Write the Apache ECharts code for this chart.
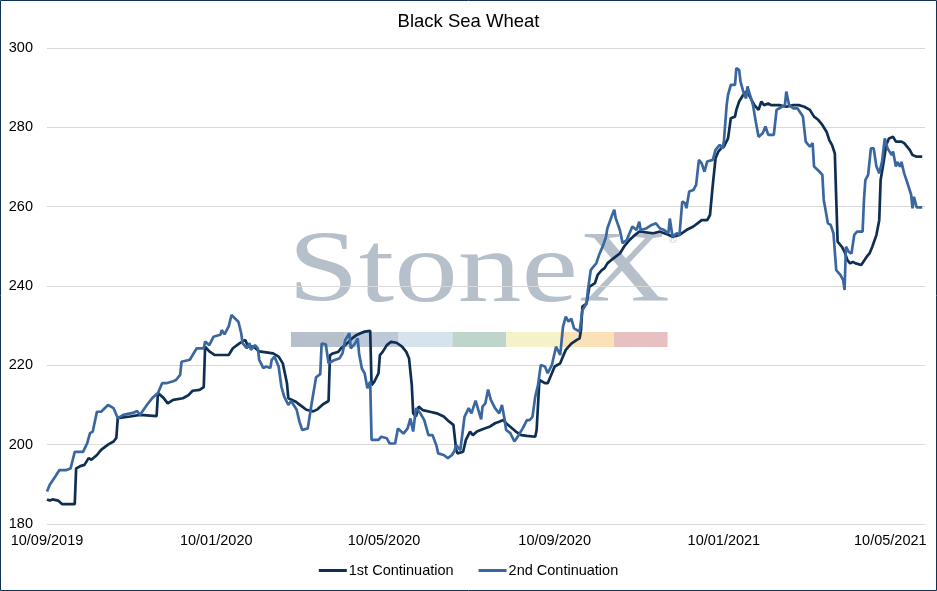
<!DOCTYPE html>
<html>
<head>
<meta charset="utf-8">
<title>Black Sea Wheat</title>
<script src="https://cdn.jsdelivr.net/npm/echarts@6.0.0/dist/echarts.min.js"></script>
<style>
    html, body { margin: 0; padding: 0; background: #fff; }
    #chart { width: 937px; height: 591px; }
</style>
</head>
<body>
<div id="chart"></div>
<script>
// dates are kept as day counts from the first date
var startDate = '2019-09-10';
var tickLabels = ['10/09/2019', '10/01/2020', '10/05/2020', '10/09/2020', '10/01/2021', '10/05/2021'];
var yTicks = [180, 200, 220, 240, 260, 280, 300];
var seriesNames = ['1st Continuation', '2nd Continuation'];

var days1 = [0,2,4,8,11,20,21,24,27,30,
    32,36,39,44,48,50,51,60,67,79,
    80,84,87,91,98,102,105,110,113,114,
    117,121,131,134,139,143,145,149,153,163,
    167,170,173,174,179,184,187,192,195,199,
    203,204,206,210,212,215,220,223,226,229,
    233,234,236,239,240,242,245,248,252,256,
    259,261,263,264,266,268,271,276,281,286,
    290,293,295,296,300,302,305,307,310,314,
    319,323,326,329,331,334,338,342,346,352,
    353,355,359,361,364,366,370,372,374,378,
    382,384,385,386,389,391,395,397,400,402,
    404,407,410,413,416,420,424,427,437,442,
    448,451,456,461,466,469,472,476,478,480,
    482,484,486,488,491,493,496,497,499,502,
    504,506,510,513,515,517,520,522,528,533,
    538,542,546,550,553,556,559,562,564,566,
    568,569,570,573,575,577,579,581,583,587,
    588,591,593,595,598,600,601,603,605,607,
    610,612,616,618,622,624,627,631];
var vals1 = [186.2,185.9,186.2,185.9,185,185,194,194.6,194.9,196.6,
    196.2,197.4,198.7,200,200.8,201.7,206.7,207.1,207.5,207.2,
    213,211.8,210.4,211.3,211.7,212.5,213.6,213.8,214.5,224.7,
    223.5,222.6,222.6,224.3,225.6,226.4,224.7,224.7,223.5,223,
    222.2,220.5,215.5,211.7,210.9,209.6,208.8,208.4,208.9,210.2,
    211,222.5,223,223.4,224.3,225.1,226.8,227.6,228.1,228.5,
    228.7,215,215.9,218,222.6,223.4,225.1,225.9,225.7,224.7,
    223.4,221.8,215,207.9,207.1,209.6,208.7,208.3,207.9,207.1,
    205.8,205,198.7,197.8,198.2,201.2,203.3,202.4,203.3,203.9,
    204.5,205.4,205.8,206.2,205.4,204.5,203.3,202.4,202.2,202,
    203.7,216.3,215.5,215.5,218,219.7,220.5,222.2,223.9,225.5,
    226.4,226.8,228.9,234.8,235.6,239.8,240.7,242.8,244,244.5,
    245.7,246.6,247.4,248.2,249.9,251.6,252.9,253.7,253.3,253.7,
    252.9,252.4,252.9,254.1,255,255.8,256.6,256.6,257.9,265.5,
    272.2,273.9,274.7,275.1,277.2,282.3,282.7,284.4,286.5,288.2,
    289,288.2,285.6,284.4,286.5,285.6,286,285.6,285.6,285.2,
    285.6,285.6,285.2,284.4,282.7,281.9,280.6,278.9,276.8,275.5,
    273.4,262,251.2,249.9,248.6,246.6,245.7,246.1,245.7,245.3,
    244.9,247.4,248.2,249.9,252.9,256.6,266.7,270.9,275.5,277.2,
    277.6,276.4,276.4,276,274.3,273,272.6,272.6];

var days2 = [0,2,6,9,14,17,20,26,29,31,
    33,36,39,44,48,51,55,62,65,67,
    72,76,80,83,86,91,93,96,97,103,
    105,108,113,114,117,120,125,126,128,129,
    131,133,134,138,140,141,144,146,147,150,
    152,153,156,158,161,162,164,167,169,171,
    174,176,180,182,184,188,191,194,197,198,
    201,203,205,207,211,213,215,218,219,222,
    224,225,227,229,231,233,234,239,241,245,
    247,251,253,257,260,262,264,266,269,272,
    275,278,281,282,286,289,292,294,295,298,
    301,304,306,309,311,313,314,316,318,320,
    323,326,328,330,331,334,337,340,343,346,
    348,350,352,354,356,359,361,364,367,370,
    372,374,376,378,380,384,386,389,390,392,
    394,396,398,401,403,404,407,409,410,413,
    415,418,420,422,425,427,428,432,436,439,
    442,445,448,449,451,454,456,458,460,461,
    463,466,468,470,472,474,476,480,482,485,
    487,488,490,491,493,496,497,499,500,502,
    504,505,506,509,511,513,516,518,520,524,
    526,528,532,533,535,538,541,545,547,550,
    552,553,557,559,560,563,565,567,569,572,
    574,575,576,578,580,582,584,588,589,590,
    592,594,596,598,600,602,604,606,607,609,
    610,612,613,615,616,618,620,623,624,625,
    627,631];
var vals2 = [188.2,189.9,192,193.6,193.6,194,198.2,198.2,200.4,202.9,
    203.3,208.3,208.3,210,209.2,206.7,207.5,208,208.5,207.5,
    210,211.8,213,215.5,215.5,216,216.3,217.6,220.9,221.4,
    222.6,224.3,224.3,226,225.1,227.2,227.7,228.9,227.8,228.5,
    229.8,232.7,232.7,231,228.1,225.6,224.3,225.6,223.9,225.1,
    224.3,221.4,219.3,219.7,219.3,221.4,222.2,219.7,214.6,212.1,
    210,211,208.8,205.8,203.7,204.1,210.8,217,217.8,225.5,
    225.3,220.5,220.9,221.3,221.8,223,226.4,228.1,224.3,225.5,
    226.8,223,219.2,218,214.2,215.9,201.2,201.2,202,201.6,
    200.3,200.3,204.1,202.8,204.1,206.6,203.3,209.2,208,206.2,
    202.4,202.4,199.5,197.8,197.4,196.6,197.4,198.6,199.9,198.6,
    207,209.2,207.9,211.1,208.7,206.4,209.6,210.4,213.9,211.3,
    209.2,207.9,210,206.2,203.7,202.9,200.8,202.4,204.1,206.2,
    206.2,207,212.1,215,220.1,219.7,218,220.1,224.7,222.6,
    229.7,232.3,231,231.8,229.3,228.5,233.9,235.6,239,244,
    244.9,245.7,247.8,250.3,252.4,254.5,257.5,259.2,257.1,254.1,
    250.8,251.6,253.3,255,254.1,256.2,254.1,254.5,255.4,255.8,
    254.5,254.1,253.3,257,252.4,253.3,252.9,261.3,260.9,259.6,
    263.8,264.2,265.5,271.8,270.9,268.8,271.4,271.8,274.3,275.6,
    274.7,276.4,285.6,288.2,290.7,290.7,294.9,294.5,291.5,289,
    287.3,290.3,289.8,285.6,281.4,277.6,278.5,280.2,278.1,278.1,
    284.4,284.8,285.6,289,285.6,284.8,284.8,282.7,276.4,275.1,
    276,270.1,268.8,268,261.7,255.8,255.4,253.3,244,242.8,
    241.5,239,249.9,248.6,248.2,252.9,253.7,253.7,261.7,266.7,
    268,274.7,274.7,270.1,268.4,271.3,277.2,274.7,274.3,273,
    273.9,270.1,271.3,270.1,271.3,268.4,266.3,263,259.6,262.5,
    259.8,259.8];

var DAY = 86400000;
var startParts = startDate.split('-');
var t0 = new Date(+startParts[0], +startParts[1] - 1, +startParts[2]).getTime();

// dd/mm/yyyy -> days from startDate
var labelToDay = function (s) {
    var p = s.split('/');
    return Math.round((new Date(+p[2], +p[1] - 1, +p[0]).getTime() - t0) / DAY);
};
var pad = function (n) {
    return n < 10 ? '0' + n : '' + n;
};
var dayToLabel = function (v) {
    var d = new Date(t0 + Math.round(v) * DAY + DAY / 2);
    return pad(d.getDate()) + '/' + pad(d.getMonth() + 1) + '/' + d.getFullYear();
};

var lineChart = function () {
    var box = document.getElementById('chart');
    var myChart = echarts.init(box, null, { renderer: 'canvas' });

    var data1 = days1.map(function (d, i) { return [d, vals1[i]]; });
    var data2 = days2.map(function (d, i) { return [d, vals2[i]]; });
    var tickDays = tickLabels.map(labelToDay);

    // watermark bar colours
    var barColors = ['#b6c0cb', '#bdc9d9', '#d6e3ef', '#bfd4ca', '#f5f1c9', '#fbe2b6', '#e8c0c1'];
    var wm = [{
        type: 'text',
        x: 288,
        y: 274,
        scaleX: 1.26,
        z: -10,
        silent: true,
        style: {
            text: 'StoneX',
            font: '101px "Liberation Serif", "Times New Roman", serif',
            fill: '#b5c0cb',
            verticalAlign: 'middle'
        }
    }, {
        type: 'text',
        x: 673,
        y: 240,
        z: -10,
        silent: true,
        style: {
            text: '\u00ae',
            font: '12px "Liberation Sans", Arial, sans-serif',
            fill: '#c3ccd5',
            align: 'center',
            verticalAlign: 'middle'
        }
    }];
    barColors.forEach(function (c, i) {
        wm.push({
            type: 'rect',
            z: -10,
            silent: true,
            shape: { x: 291 + i * 53.8, y: 332, width: 53.8, height: 15 },
            style: { fill: c }
        });
    });
    // outer border
    wm.push({
        type: 'rect',
        silent: true,
        shape: { x: 0.5, y: 0.5, width: 936, height: 590 },
        style: { fill: 'none', stroke: '#0e3356', lineWidth: 1 }
    });

    var option = {
        animation: false,
        backgroundColor: '#fff',
        textStyle: { fontFamily: '"Liberation Sans", Arial, sans-serif' },
        title: {
            text: 'Black Sea Wheat',
            left: 'center',
            top: 12,
            padding: 0,
            textStyle: {
                fontSize: 18.5,
                fontWeight: 'normal',
                color: '#000',
                lineHeight: 20
            }
        },
        legend: {
            bottom: 8,
            left: 'center',
            icon: 'rect',
            itemWidth: 28,
            itemHeight: 3,
            itemGap: 25,
            data: seriesNames,
            textStyle: { fontSize: 14.5, color: '#000', padding: [0, 0, 0, -3] }
        },
        color: ['#0f2f52', '#3a67a0'],
        grid: {
            left: 47,
            right: 12,
            top: 48,
            bottom: 67,
            containLabel: false
        },
        xAxis: {
            type: 'value',
            min: 0,
            max: 633,
            axisLine: { show: false },
            axisTick: { show: false },
            splitLine: { show: false },
            axisLabel: {
                customValues: tickDays,
                formatter: dayToLabel,
                fontSize: 14.5,
                color: '#000',
                margin: 9
            }
        },
        yAxis: {
            type: 'value',
            min: yTicks[0],
            max: yTicks[yTicks.length - 1],
            interval: yTicks[1] - yTicks[0],
            axisLine: { show: false },
            axisTick: { show: false },
            splitLine: { lineStyle: { color: '#d9d9d9', width: 1 } },
            axisLabel: { fontSize: 14.5, color: '#000', margin: 14 }
        },
        series: [{
            name: seriesNames[0],
            type: 'line',
            showSymbol: false,
            z: 3,
            lineStyle: { width: 2.7 },
            data: data1
        }, {
            name: seriesNames[1],
            type: 'line',
            showSymbol: false,
            z: 4,
            lineStyle: { width: 2.7 },
            data: data2
        }],
        graphic: wm
    };
    myChart.setOption(option);
};

lineChart();
</script>
</body>
</html>
